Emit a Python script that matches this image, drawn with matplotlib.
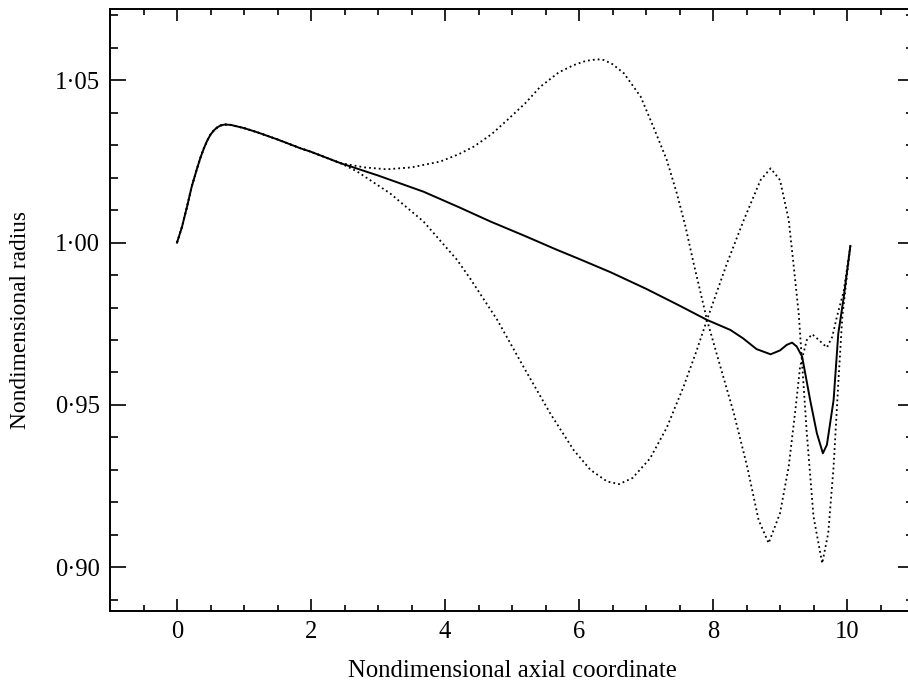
import matplotlib
matplotlib.use("Agg")
import matplotlib.pyplot as plt

plt.rcParams['font.family'] = ['Liberation Serif', 'DejaVu Serif']

# common start (all three curves overlap up to x ~ 2.4)
x_start = [0.0, 0.075, 0.15, 0.22, 0.30, 0.35, 0.40, 0.45, 0.50, 0.55, 0.60,
           0.65, 0.71, 0.80, 1.0, 1.2, 1.5, 1.84, 2.0, 2.44]
y_start = [1.0000, 1.0049, 1.0111, 1.0173, 1.0229, 1.0262, 1.0290, 1.0314,
           1.0333, 1.0346, 1.0355, 1.0361, 1.0364, 1.0363, 1.0353, 1.0340,
           1.0318, 1.0291, 1.0280, 1.0245]

# solid curve
x_solid = x_start + [3.0, 3.68, 4.2, 4.68, 5.2, 5.67, 6.0, 6.47, 7.0, 7.5,
                     7.91, 8.26, 8.45, 8.65, 8.86, 9.0, 9.1, 9.18, 9.25, 9.33,
                     9.45, 9.55, 9.64, 9.70, 9.80, 9.87, 9.95, 10.05]
y_solid = y_start + [1.0207, 1.0157, 1.0110, 1.0065, 1.0020, 0.9978, 0.9950,
                     0.9909, 0.9858, 0.9806, 0.9762, 0.9731, 0.9705, 0.9672,
                     0.9656, 0.9668, 0.9685, 0.9692, 0.9680, 0.9649, 0.9515,
                     0.9413, 0.9351, 0.9377, 0.9515, 0.9720, 0.9830, 0.9990]

# upper dotted curve
x_upper = x_start + [2.8, 3.13, 3.5, 3.93, 4.2, 4.43, 4.7, 4.93, 5.2, 5.42,
                     5.7, 5.92, 6.1, 6.27, 6.37, 6.5, 6.67, 6.92, 7.11, 7.31,
                     7.46, 7.59, 7.71, 7.91, 8.10, 8.31, 8.51, 8.68, 8.83,
                     9.0, 9.13, 9.23, 9.30, 9.40, 9.48, 9.58, 9.70, 9.78,
                     9.85, 9.95, 10.05]
y_upper = y_start + [1.0232, 1.0226, 1.0232, 1.0250, 1.0272, 1.0296, 1.0335,
                     1.0378, 1.0430, 1.0480, 1.0525, 1.0547, 1.0560, 1.0565,
                     1.0563, 1.0550, 1.0522, 1.0450, 1.0357, 1.0255, 1.0152,
                     1.0049, 0.9937, 0.9762, 0.9625, 0.9475, 0.9310, 0.9146,
                     0.9074, 0.9166, 0.9310, 0.9485, 0.9618, 0.9700, 0.9718,
                     0.9700, 0.9677, 0.9710, 0.9772, 0.9850, 0.9990]

# lower dotted curve
x_lower = x_start + [2.69, 3.18, 3.68, 4.18, 4.38, 4.78, 5.17, 5.57, 5.92,
                     6.17, 6.42, 6.60, 6.80, 7.06, 7.31, 7.56, 7.76, 7.91,
                     8.21, 8.46, 8.71, 8.86, 9.0, 9.13, 9.20, 9.28, 9.40,
                     9.50, 9.63, 9.72, 9.80, 9.87, 9.93, 10.05]
y_lower = y_start + [1.0219, 1.0152, 1.0065, 0.9947, 0.9888, 0.9762, 0.9618,
                     0.9474, 0.9361, 0.9300, 0.9264, 0.9256, 0.9275, 0.9335,
                     0.9430, 0.9556, 0.9670, 0.9762, 0.9937, 1.0070, 1.0193,
                     1.0229, 1.0193, 1.0070, 0.9937, 0.9780, 0.9413, 0.9156,
                     0.9012, 0.9105, 0.9310, 0.9567, 0.9772, 0.9990]

x_ticks = [0, 2, 4, 6, 8, 10]
x_labels = ['0', '2', '4', '6', '8', '10']
y_ticks = [0.90, 0.95, 1.00, 1.05]
y_labels = ['0·90', '0·95', '1·00', '1·05']

fig = plt.figure(figsize=(9.08, 6.83), dpi=100)
ax = fig.add_axes([110 / 908, 72 / 683, 804 / 908, 602 / 683])

ax.plot(x_upper, y_upper, color='black', lw=1.3, linestyle=(0, (1, 1.7)))
ax.plot(x_lower, y_lower, color='black', lw=1.3, linestyle=(0, (1, 1.7)))
ax.plot(x_solid, y_solid, color='black', lw=1.4)

ax.set_xlim(-1, 11)
ax.set_ylim(0.8865, 1.072)

ax.set_xticks(x_ticks)
ax.set_xticklabels(x_labels)
ax.set_xticks([v / 2 for v in range(-1, 22)], minor=True)
ax.set_yticks(y_ticks)
ax.set_yticklabels(y_labels)
ax.set_yticks([0.89 + 0.01 * i for i in range(19)], minor=True)

ax.tick_params(axis='both', which='both', direction='in', colors='black',
               labelsize=17.7, width=1.2)
ax.tick_params(axis='x', which='major', length=8.6, pad=7, top=True)
ax.tick_params(axis='x', which='minor', length=4.3, top=True)
ax.tick_params(axis='y', which='major', length=11.5, pad=7, right=True)
ax.tick_params(axis='y', which='minor', length=5.8, right=True)

for s in ['left', 'bottom', 'top']:
    ax.spines[s].set_linewidth(1.4)
ax.spines['right'].set_visible(False)

ax.set_xlabel('Nondimensional axial coordinate', fontsize=17.8)
ax.xaxis.label.set_va('baseline')
ax.xaxis.set_label_coords(0.5, -0.109)
ax.set_ylabel('Nondimensional radius', fontsize=16.8)
ax.yaxis.set_label_coords(-0.0983, 0.4834)

fig.savefig('out.png', dpi=100)
